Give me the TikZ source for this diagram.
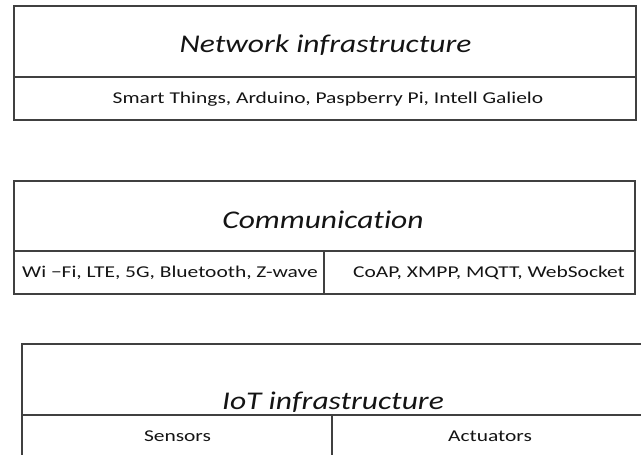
\documentclass[tikz,border=0pt]{standalone}
\usepackage{fontspec}
\setmainfont{Carlito}
\newfontfamily\titlefont[FakeStretch=1.235,RawFeature=-liga]{Carlito}
\newfontfamily\entryfont[FakeStretch=1.3]{Carlito}
\begin{document}
\begin{tikzpicture}[x=1pt,y=-1pt,
  cell/.style={draw=linegray, line width=1.6pt, rectangle, inner sep=0pt, outer sep=0pt},
  title/.style={anchor=base, inner sep=0pt, text=textdark, font=\titlefont\fontsize{25.5}{30}\selectfont\itshape},
  entry/.style={anchor=base, inner sep=0pt, text=textdark, font=\entryfont\fontsize{16.5}{19}\selectfont}]
\definecolor{linegray}{HTML}{404040}
\definecolor{textdark}{HTML}{141414}
\useasboundingbox (0,0) rectangle (641,455);
\begin{scope}
\clip (0,0) rectangle (641,455);
% network layer
\node[cell, minimum width=622pt, minimum height=70.7pt] (nethead) at (325,41.35) {};
\node[cell, minimum width=622pt, minimum height=43.3pt] (netbody) at (325,98.35) {};
\node[title] (nettitle) at (325.5,52.7) {Network infrastructure};
\node[entry] (netlist) at (328,103.3) {Smart Things, Arduino, Paspberry Pi, Intell Galielo};
% communication layer
\node[cell, minimum width=621pt, minimum height=69.7pt] (comhead) at (324.5,215.85) {};
\node[cell, minimum width=310pt, minimum height=43.3pt] (comleft) at (169,272.35) {};
\node[cell, minimum width=311pt, minimum height=43.3pt] (comright) at (479.5,272.35) {};
\node[title] (comtitle) at (323,228) {Communication};
\node[entry] (comradio) at (170,277.5) {Wi −Fi, LTE, 5G, Bluetooth, Z-wave};
\node[entry] (comproto) at (489,277.5) {CoAP, XMPP, MQTT, WebSocket};
% IoT layer
\node[cell, minimum width=624pt, minimum height=70.7pt] (iothead) at (334,379.35) {};
\node[cell, minimum width=310pt, minimum height=60pt] (iotleft) at (177,444.7) {};
\node[cell, minimum width=314pt, minimum height=60pt] (iotright) at (489,444.7) {};
\node[title] (iottitle) at (333,409.5) {IoT infrastructure};
\node[entry] (sensors) at (177.5,441) {Sensors};
\node[entry] (actuators) at (490,441) {Actuators};
\end{scope}
\end{tikzpicture}
\end{document}
